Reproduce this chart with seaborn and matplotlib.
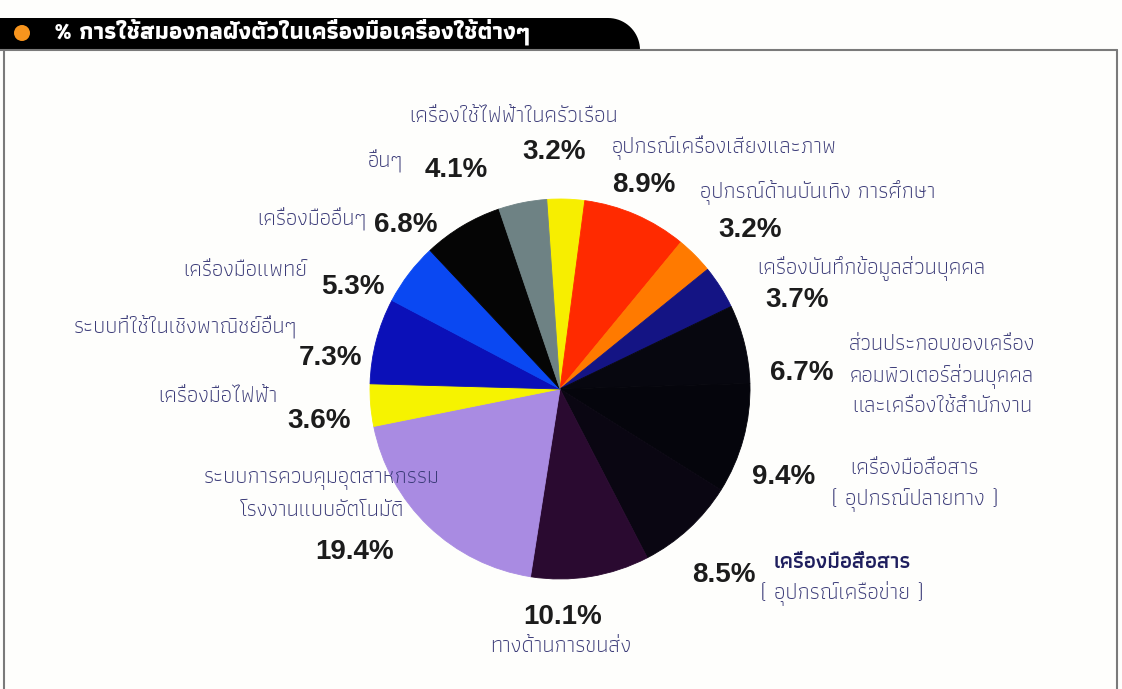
import numpy as np
import matplotlib
matplotlib.use("Agg")
import matplotlib.pyplot as plt
import seaborn as sns
from matplotlib.patches import Polygon, Ellipse
from matplotlib.lines import Line2D

# ---- data (clockwise from the top) ----
categories = [
    "เครื่องใช้ไฟฟ้าในครัวเรือน",
    "อุปกรณ์เครื่องเสียงและภาพ",
    "อุปกรณ์ด้านบันเทิง การศึกษา",
    "เครื่องบันทึกข้อมูลส่วนบุคคล",
    "ส่วนประกอบของเครื่อง\nคอมพิวเตอร์ส่วนบุคคล\nและเครื่องใช้สำนักงาน",
    "เครื่องมือสื่อสาร\n( อุปกรณ์ปลายทาง )",
    "เครื่องมือสื่อสาร\n( อุปกรณ์เครือข่าย )",
    "ทางด้านการขนส่ง",
    "ระบบการควบคุมอุตสาหกรรม\nโรงงานแบบอัตโนมัติ",
    "เครื่องมือไฟฟ้า",
    "ระบบที่ใช้ในเชิงพาณิชย์อื่นๆ",
    "เครื่องมือแพทย์",
    "เครื่องมืออื่นๆ",
    "อื่นๆ",
]
shares = [3.2, 8.9, 3.2, 3.7, 6.7, 9.4, 8.5, 10.1, 19.4, 3.6, 7.3, 5.3, 6.8, 4.1]
slice_colors = ["#f7ee00", "#ff2a00", "#ff7a00", "#141484", "#07070f", "#05050c",
                "#0a0612", "#2a0a30", "#a98be2", "#f6f300", "#0b10b8", "#0a48f2",
                "#050505", "#6e8284"]
title = "% การใช้สมองกลฝังตัวในเครื่องมือเครื่องใช้ต่างๆ"

# ---- label layout (pixel positions in the 1122x689 picture, y from top) ----
# (pct_x, pct_y, pct_ha, name_x, first_line_y, name_ha)
label_pos = [
    (554, 152, "center", 514, 117, "center"),
    (612, 185, "left", 612, 147, "left"),
    (718, 230, "left", 700, 193, "left"),
    (765, 300, "left", 757, 268, "left"),
    (770, 373, "left", 942, 345, "center"),
    (752, 477, "left", 915, 468, "center"),
    (692, 575, "left", 842, 562, "center"),
    (563, 617, "center", 561, 647, "center"),
    (355, 552, "center", 322, 480, "center"),
    (319, 421, "center", 278, 397, "right"),
    (331, 358, "center", 297, 326, "right"),
    (353, 287, "center", 307, 270, "right"),
    (406, 225, "center", 367, 218, "right"),
    (456, 170, "center", 403, 160, "right"),
]
line_step = 31

W, H = 1122, 689

sns.set_theme(style="white")
plt.rcParams["font.family"] = ["Athiti", "DejaVu Sans"]


def fx(x):
    return x / W


def fy(y):
    return 1 - y / H


fig = plt.figure(figsize=(W / 100, H / 100), dpi=100, facecolor="#fefefc")

# header bar with rounded right end
r = 32
arc = np.linspace(np.pi / 2, 0, 20)
bar = [(0, 18)] + [(608 + r * np.cos(a), 50 - r * np.sin(a)) for a in arc] + [(0, 50)]
fig.patches.append(Polygon([(fx(x), fy(y)) for x, y in bar], closed=True,
                           transform=fig.transFigure, facecolor="black", edgecolor="none"))
fig.patches.append(Ellipse((fx(22), fy(33)), 16 / W, 16 / H, transform=fig.transFigure,
                           facecolor="#f7941d", edgecolor="none"))
fig.text(fx(54), fy(32), title, color="white", fontsize=17, fontweight=700,
         va="center", ha="left")

# frame
for xs, ys in [((0, 1117), (50, 50)), ((1117, 1117), (50, 689)), ((4, 4), (50, 689))]:
    fig.lines.append(Line2D([fx(v) for v in xs], [fy(v) for v in ys],
                            transform=fig.transFigure, color="#7a7a7a", linewidth=1.5))

# pie
cx, cy, rad = 560, 389, 190
ax = fig.add_axes([fx(cx - rad), fy(cy + rad), 2 * rad / W, 2 * rad / H])
wedges, _ = ax.pie(shares, colors=slice_colors, startangle=94, counterclock=False,
                   wedgeprops=dict(linewidth=0.6))
for w, c in zip(wedges, slice_colors):
    w.set_edgecolor(c)
ax.set_xlim(-1, 1)
ax.set_ylim(-1, 1)
ax.set_aspect("equal")
ax.axis("off")

for i, (name, val, (px, py, pha, nx, ny, nha)) in enumerate(zip(categories, shares, label_pos)):
    fig.text(fx(px), fy(py), f"{val:.1f}%", fontsize=20, fontweight="bold",
             family=["Liberation Sans", "DejaVu Sans"], color="#1c1c1c",
             ha=pha, va="center")
    for j, line in enumerate(name.split("\n")):
        strong = (i == 6 and j == 0)
        fig.text(fx(nx), fy(ny + j * line_step), line, fontsize=16,
                 fontweight=600 if strong else 300,
                 color="#1e1e5e" if strong else "#3b3b78", ha=nha, va="center")

fig.savefig("out.png", dpi=100, facecolor=fig.get_facecolor())
